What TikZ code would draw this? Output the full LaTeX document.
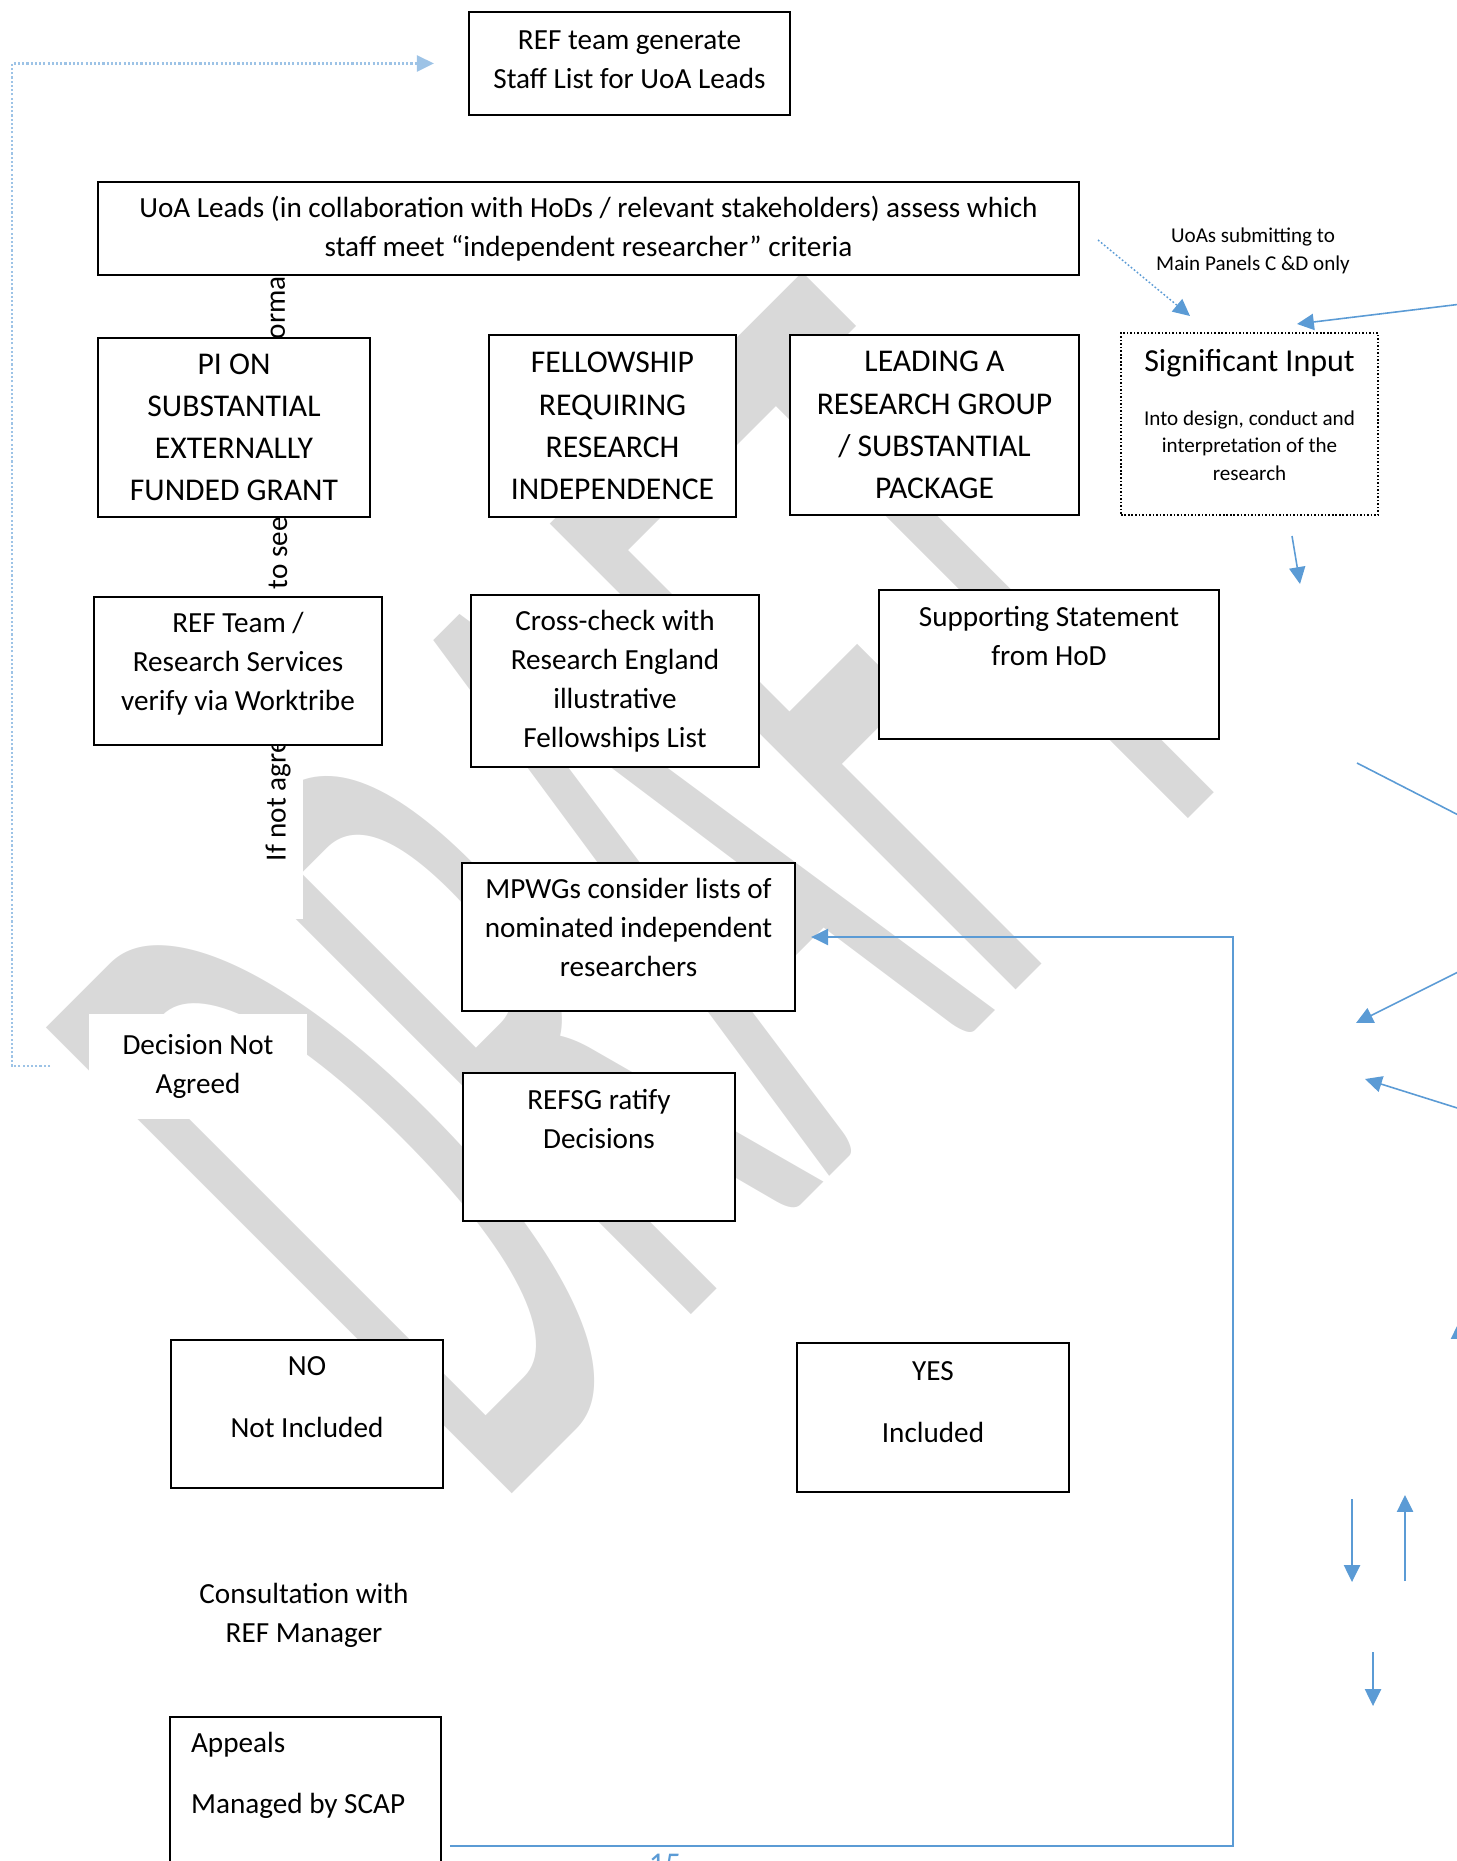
\documentclass[tikz,border=0pt]{standalone}
\usepackage{fontspec}
\setmainfont{Carlito}
\usetikzlibrary{arrows.meta}
\definecolor{linkblue}{HTML}{5B9BD5}
\definecolor{paleblue}{HTML}{9DC3E6}
\definecolor{wmgray}{HTML}{D9D9D9}
\newcommand{\bodyfont}{\fontsize{8.3}{11.1}\selectfont}
\newcommand{\capsfont}{\fontsize{9}{12}\selectfont}
\newcommand{\titlefont}{\fontsize{9.1}{12}\selectfont}
\newcommand{\notefont}{\fontsize{6}{7.8}\selectfont}
% box whose text hangs from the top edge
\newcommand{\topbox}[4]{\parbox[c][#2][t]{#1}{\centering\vspace*{#3}#4}}
\tikzset{
  box/.style={draw, line width=0.6pt, fill=white, inner sep=0pt, align=center, font=\bodyfont},
  capsbox/.style={box, font=\capsfont},
  plain/.style={inner sep=0pt, align=center, font=\bodyfont},
  sidetext/.style={rotate=90, anchor=west, inner sep=0pt, font=\bodyfont},
  wmark/.style={rotate=45, xscale=0.40, anchor=base west, text=wmgray, inner sep=0pt, font=\fontsize{292}{292}\selectfont},
  link/.style={draw=linkblue, line width=0.45pt, -{Triangle[length=4.8pt,width=4.6pt]}},
  backlink/.style={draw=paleblue, line width=0.6pt, dash pattern=on 0.6pt off 0.6pt, -{Triangle[length=4.8pt,width=4.6pt]}}
}
\begin{document}
\begin{tikzpicture}[x=0.01cm,y=-0.01cm]
  \useasboundingbox (0,0) rectangle (1456,1861);
  % watermark
  \node[wmark] (draft) at (492,1514) {DRAFT};
  \fill[white] (215,275) rectangle (303,919);
  \node[sidetext] (sidea) at (278,862) {If not agre};
  \node[sidetext] (sideb) at (278,612) {n to see};
  \node[sidetext] (sidec) at (278,340) {orma};

  \node[box] (refgen) at (629.5,63.5) {\topbox{3.21cm}{1.03cm}{0.19cm}{REF team generate\\Staff List for UoA Leads}};
  \node[box, minimum width=9.81cm, minimum height=0.93cm] (uoa) at (588.5,228.5) {UoA Leads (in collaboration with HoDs / relevant stakeholders) assess which\\staff meet ``independent researcher'' criteria};
  \node[plain, font=\notefont] (panels) at (1253,251) {UoAs submitting to\\Main Panels C \&D only};

  \node[capsbox, minimum width=2.72cm, minimum height=1.79cm] (pi) at (234,427.5) {PI ON\\SUBSTANTIAL\\EXTERNALLY\\FUNDED GRANT};
  \node[capsbox, minimum width=2.47cm, minimum height=1.82cm] (fellow) at (612.5,426) {FELLOWSHIP\\REQUIRING\\RESEARCH\\INDEPENDENCE};
  \node[capsbox, minimum width=2.89cm, minimum height=1.80cm] (leading) at (934.5,425) {LEADING A\\RESEARCH GROUP\\/ SUBSTANTIAL\\PACKAGE};
  \node[box, line width=0.5pt, dash pattern=on 0.45pt off 0.55pt] (sig) at (1249.5,424) {\topbox{2.57cm}{1.82cm}{0.16cm}{{\titlefont Significant Input\par}\vspace{7.6pt}{\notefont Into design, conduct and\\interpretation of the\\research\par}}};

  \node[box] (refteam) at (238,671) {\topbox{2.88cm}{1.48cm}{0.15cm}{REF Team /\\Research Services\\verify via Worktribe}};
  \node[box, minimum width=2.88cm, minimum height=1.72cm] (cross) at (615,681) {Cross-check with\\Research England\\illustrative\\Fellowships List};
  \node[box] (supp) at (1049,664.5) {\topbox{3.40cm}{1.49cm}{0.16cm}{Supporting Statement\\from HoD}};

  \node[box] (mpwg) at (628.5,937) {\topbox{3.33cm}{1.48cm}{0.15cm}{MPWGs consider lists of\\nominated independent\\researchers}};
  \node[plain, fill=white, minimum width=2.18cm, minimum height=1.05cm] (notagreed) at (198,1066.5) {Decision Not\\Agreed};
  \node[box] (refsg) at (599,1147) {\topbox{2.72cm}{1.48cm}{0.16cm}{REFSG ratify\\Decisions}};

  \node[box] (no) at (307,1414) {\topbox{2.72cm}{1.48cm}{0.17cm}{NO\\[6.3pt]Not Included}};
  \node[box] (yes) at (933,1417.5) {\topbox{2.72cm}{1.49cm}{0.19cm}{YES\\[6.3pt]Included}};
  \node[plain] (consult) at (304,1615) {Consultation with\\REF Manager};
  \node[box, anchor=north west, inner xsep=0.21cm] (appeals) at (169,1716) {\parbox[c][2.1cm][t]{2.29cm}{\raggedright\vspace*{0.15cm}Appeals\\[6.3pt]Managed by SCAP}};
  \node[anchor=north, inner sep=0pt, text=linkblue, font=\capsfont] (pagenum) at (665,1853) {15};

  % return line from the appeals back to the MPWGs
  \coordinate (retstart) at (450,1846);
  \coordinate (retturn) at (1233,1846);
  \draw[link] (retstart) -- (retturn) |- ([xshift=0.15cm]mpwg.east);

  % dotted line from the decision back to the start
  \coordinate (nagfoot) at (50,1066);
  \coordinate (nagturn) at (12,1066);
  \draw[backlink] (nagfoot) -- (nagturn) |- ([xshift=-0.34cm]refgen.west);

  % arrows at the right margin
  \coordinate (cdtail) at (1098,240);
  \coordinate (cdtip) at (1190,316);
  \draw[link, line width=0.4pt, dash pattern=on 0.5pt off 0.6pt] (cdtail) -- (cdtip);
  \coordinate (a1) at (1470,303);  \coordinate (b1) at (1297,324);
  \coordinate (a2) at (1292,536);  \coordinate (b2) at (1300,584);
  \coordinate (a3) at (1470,966);  \coordinate (b3) at (1356,1023);
  \coordinate (a4) at (1470,1112); \coordinate (b4) at (1365,1079);
  \coordinate (a5) at (1459,1400); \coordinate (b5) at (1459,1322);
  \coordinate (a6) at (1352,1499); \coordinate (b6) at (1352,1582);
  \coordinate (a7) at (1405,1581); \coordinate (b7) at (1405,1495);
  \coordinate (a8) at (1373,1652); \coordinate (b8) at (1373,1706);
  \foreach \i in {1,...,8}
    \draw[link] (a\i) -- (b\i);
  \coordinate (c1) at (1357,763);  \coordinate (c2) at (1470,821);
  \draw[linkblue, line width=0.45pt] (c1) -- (c2);
\end{tikzpicture}
\end{document}
